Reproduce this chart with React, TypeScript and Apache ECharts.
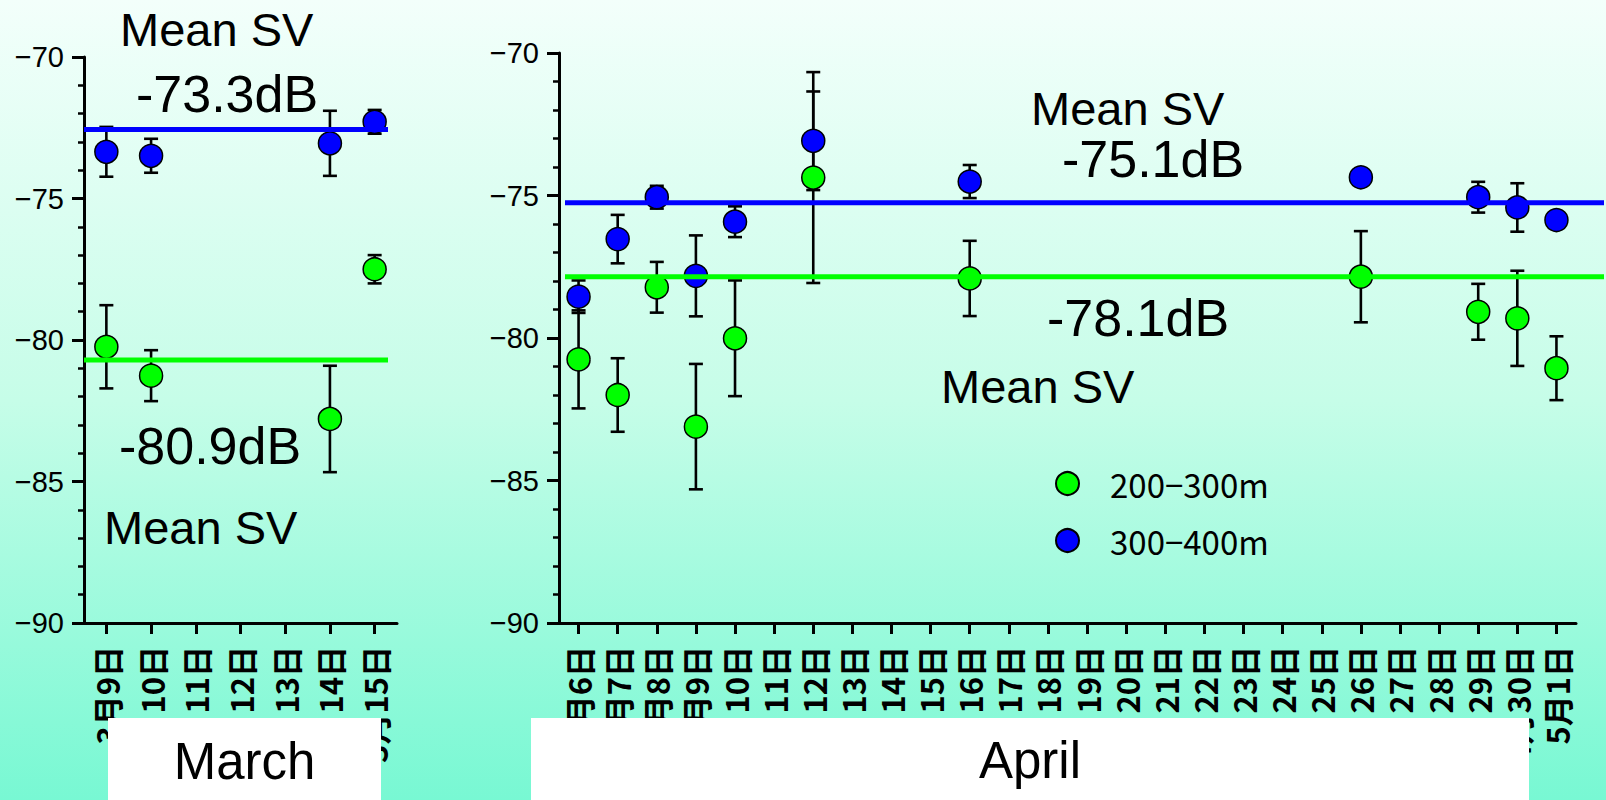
import React, { useEffect, useRef } from "react";
import * as echarts from "echarts";

// ---------- data ----------
const marchDays = ["3月9日", "3月10日", "3月11日", "3月12日", "3月13日", "3月14日", "3月15日"];
const marchShallow = [-80.24, -81.26, null, null, null, -82.79, -77.5];
const marchShallowErr = [1.47, 0.9, null, null, null, 1.88, 0.5];
const marchDeep = [-73.35, -73.49, null, null, null, -73.05, -72.29];
const marchDeepErr = [0.88, 0.6, null, null, null, 1.15, 0.42];
const marchMeans = [-80.71, -72.56]; // 200-300m, 300-400m mean lines

const aprilDays = [
  "4月6日", "4月7日", "4月8日", "4月9日", "4月10日", "4月11日", "4月12日", "4月13日",
  "4月14日", "4月15日", "4月16日", "4月17日", "4月18日", "4月19日", "4月20日", "4月21日",
  "4月22日", "4月23日", "4月24日", "4月25日", "4月26日", "4月27日", "4月28日", "4月29日",
  "4月30日", "5月1日",
];
const aprilShallow = [
  -80.75, -82.0, -78.22, -83.11, -80.01, null, -74.37, null, null, null, -77.91, null, null,
  null, null, null, null, null, null, null, -77.85, null, null, -79.08, -79.31, -81.06,
];
const aprilShallowErr = [
  1.72, 1.29, 0.89, 2.2, 2.03, null, 3.7, null, null, null, 1.32, null, null,
  null, null, null, null, null, null, null, 1.6, null, null, 0.98, 1.67, 1.12,
];
const aprilDeep = [
  -78.55, -76.53, -75.06, -77.82, -75.92, null, -73.08, null, null, null, -74.51, null, null,
  null, null, null, null, null, null, null, -74.36, null, null, -75.06, -75.42, -75.86,
];
const aprilDeepErr = [
  0.57, 0.85, 0.4, 1.42, 0.54, null, 1.73, null, null, null, 0.58, null, null,
  null, null, null, null, null, null, null, 0.15, null, null, 0.54, 0.85, 0.15,
];
const aprilMeans = [-77.85, -75.25];

const seriesNames = ["200−300m", "300−400m"];
const yTicks = { min: -90, max: -70, interval: 5 };

// ---------- styles ----------
const GREEN = "#00ff00";
const BLUE = "#0000ff";

function points(vals: (number | null)[]) {
  const out: number[][] = [];
  vals.forEach((v, i) => {
    if (v !== null) out.push([i, v]);
  });
  return out;
}
function errPoints(vals: (number | null)[], errs: (number | null)[]) {
  const out: number[][] = [];
  vals.forEach((v, i) => {
    if (v !== null && errs[i] !== null) out.push([i, v, errs[i] as number]);
  });
  return out;
}

const errRender = (params: any, api: any) => {
  const i = api.value(0);
  const v = api.value(1);
  const e = api.value(2);
  const top = api.coord([i, v + e]);
  const bot = api.coord([i, v - e]);
  const x = top[0];
  const h = 7;
  const st = { stroke: "#000", lineWidth: 2.6 };
  return {
    type: "group",
    children: [
      { type: "line", shape: { x1: x, y1: top[1], x2: x, y2: bot[1] }, style: st },
      { type: "line", shape: { x1: x - h, y1: top[1], x2: x + h, y2: top[1] }, style: st },
      { type: "line", shape: { x1: x - h, y1: bot[1], x2: x + h, y2: bot[1] }, style: st },
    ],
  };
};

function meanRender(color: string, ext: [number, number]) {
  return (params: any, api: any) => {
    const y = api.coord([0, api.value(1)])[1];
    const cs = params.coordSys;
    return {
      type: "line",
      shape: { x1: cs.x + ext[0], y1: y, x2: cs.x + cs.width + ext[1], y2: y },
      style: { stroke: color, lineWidth: 5 },
    };
  };
}

const yAxisBase = (gridIndex: number) => ({
  gridIndex,
  type: "value",
  min: yTicks.min,
  max: yTicks.max,
  interval: yTicks.interval,
  axisLine: { show: true, lineStyle: { color: "#000", width: 3 } },
  axisTick: { show: true, length: 12, lineStyle: { color: "#000", width: 3 } },
  minorTick: { show: true, splitNumber: 5, length: 6, lineStyle: { color: "#000", width: 2.5 } },
  splitLine: { show: false },
  axisLabel: {
    fontSize: 29,
    fontFamily: "Liberation Sans",
    color: "#000",
    margin: 20,
    formatter: (v: number) => (v < 0 ? "−" + Math.abs(v) : String(v)),
  },
});

const xAxisBase = (gridIndex: number, data: string[]) => ({
  gridIndex,
  type: "category",
  data,
  boundaryGap: true,
  axisLine: { show: true, lineStyle: { color: "#000", width: 3 } },
  axisTick: { show: true, alignWithLabel: true, interval: 0, length: 11, lineStyle: { color: "#000", width: 3 } },
  axisLabel: {
    rotate: 90,
    interval: 0,
    fontSize: 31,
    fontWeight: "bold",
    fontFamily: "Noto Sans CJK JP",
    color: "#000",
    margin: 23,
  },
});

const scatterBase = (name: string, color: string, idx: number, data: number[][]) => ({
  name,
  type: "scatter",
  xAxisIndex: idx,
  yAxisIndex: idx,
  data,
  symbol: "circle",
  symbolSize: 23,
  itemStyle: { color, borderColor: "#000", borderWidth: 1.5, opacity: 1 },
  z: 3,
});

const textEl = (text: string, x: number, y: number, size: number, align = "left") => ({
  type: "text",
  x,
  y,
  z: 100,
  style: {
    text,
    fontSize: size,
    fontFamily: "Liberation Sans",
    fill: "#000",
    textAlign: align,
    textVerticalAlign: "middle",
  },
});

export default function App() {
  const ref = useRef<HTMLDivElement>(null);
  useEffect(() => {
    if (!ref.current) return;
    const chart = echarts.init(ref.current, undefined, { renderer: "svg" });
    const option: any = {
      animation: false,
      backgroundColor: {
        type: "linear",
        x: 0,
        y: 0,
        x2: 0,
        y2: 1,
        colorStops: [
          { offset: 0, color: "#f3fffb" },
          { offset: 0.5, color: "#c6fde8" },
          { offset: 1, color: "#78f8d3" },
        ],
      },
      grid: [
        { left: 84, top: 57, width: 313, height: 566 },
        { left: 559, top: 53, width: 1017, height: 570 },
      ],
      xAxis: [xAxisBase(0, marchDays), xAxisBase(1, aprilDays)],
      yAxis: [yAxisBase(0), yAxisBase(1)],
      legend: {
        data: seriesNames,
        orient: "vertical",
        left: 1050,
        top: 462,
        itemWidth: 23,
        itemHeight: 23,
        itemGap: 24,
        icon: "circle",
        textStyle: {
          fontSize: 33,
          lineHeight: 33,
          fontFamily: "Noto Sans CJK JP",
          color: "#000",
          padding: [0, 0, 0, 26],
        },
      },
      series: [
        { type: "custom", name: "errS0", xAxisIndex: 0, yAxisIndex: 0, renderItem: errRender, data: errPoints(marchShallow, marchShallowErr), z: 2, silent: true },
        { type: "custom", name: "errD0", xAxisIndex: 0, yAxisIndex: 0, renderItem: errRender, data: errPoints(marchDeep, marchDeepErr), z: 2, silent: true },
        { type: "custom", name: "errS1", xAxisIndex: 1, yAxisIndex: 1, renderItem: errRender, data: errPoints(aprilShallow, aprilShallowErr), z: 2, silent: true },
        { type: "custom", name: "errD1", xAxisIndex: 1, yAxisIndex: 1, renderItem: errRender, data: errPoints(aprilDeep, aprilDeepErr), z: 2, silent: true },
        scatterBase(seriesNames[0], GREEN, 0, points(marchShallow)),
        scatterBase(seriesNames[1], BLUE, 0, points(marchDeep)),
        scatterBase(seriesNames[0], GREEN, 1, points(aprilShallow)),
        scatterBase(seriesNames[1], BLUE, 1, points(aprilDeep)),
        { type: "custom", name: "meanS0", xAxisIndex: 0, yAxisIndex: 0, renderItem: meanRender(GREEN, [0, -9]), data: [[0, marchMeans[0]]], z: 5, silent: true },
        { type: "custom", name: "meanD0", xAxisIndex: 0, yAxisIndex: 0, renderItem: meanRender(BLUE, [0, -9]), data: [[0, marchMeans[1]]], z: 5, silent: true },
        { type: "custom", name: "meanS1", xAxisIndex: 1, yAxisIndex: 1, renderItem: meanRender(GREEN, [6, 28]), data: [[0, aprilMeans[0]]], z: 5, silent: true },
        { type: "custom", name: "meanD1", xAxisIndex: 1, yAxisIndex: 1, renderItem: meanRender(BLUE, [6, 28]), data: [[0, aprilMeans[1]]], z: 5, silent: true },
      ],
      graphic: [
        { type: "rect", z: 100, shape: { x: 108, y: 718, width: 273, height: 82 }, style: { fill: "#fff" } },
        { type: "rect", z: 100, shape: { x: 531, y: 718, width: 998, height: 82 }, style: { fill: "#fff" } },
        textEl("March", 244.5, 761, 51, "center"),
        textEl("April", 1030, 760, 51, "center"),
        textEl("Mean SV", 120, 29, 47),
        textEl("-73.3dB", 136, 94, 52),
        textEl("-80.9dB", 119, 446, 52),
        textEl("Mean SV", 104, 527, 47),
        textEl("Mean SV", 1031, 108, 47),
        textEl("-75.1dB", 1062, 159, 52),
        textEl("-78.1dB", 1047, 318, 52),
        textEl("Mean SV", 941, 386, 47),
      ],
    };
    chart.setOption(option);
    return () => chart.dispose();
  }, []);
  return (
    <div
      ref={ref}
      style={{ position: "fixed", left: 0, top: 0, width: 1606, height: 800 }}
    />
  );
}
